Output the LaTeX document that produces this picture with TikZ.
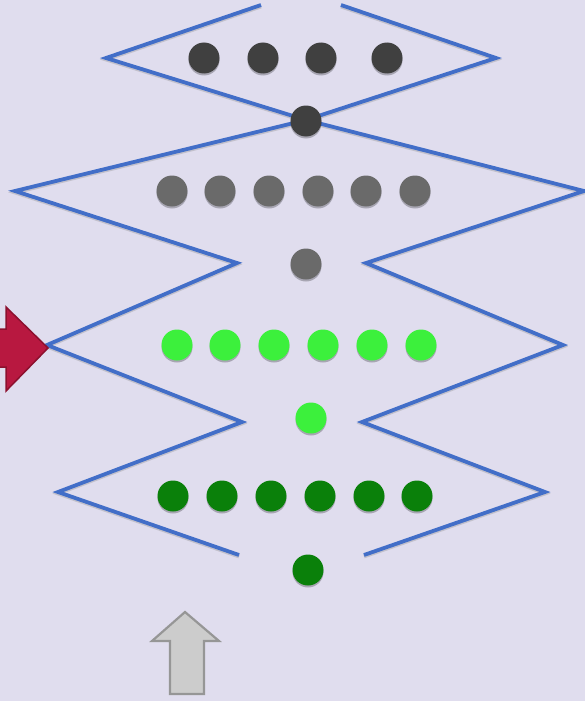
\documentclass[tikz,border=0pt]{standalone}
\usetikzlibrary{shadows}
\definecolor{bg}{RGB}{224,221,238}
\definecolor{zig}{RGB}{66,110,200}
\definecolor{dk}{RGB}{64,64,64}
\definecolor{md}{RGB}{106,106,106}
\definecolor{lime}{RGB}{60,240,60}
\definecolor{dgreen}{RGB}{10,128,10}
\definecolor{crim}{RGB}{184,24,64}
\definecolor{crimb}{RGB}{140,16,46}
\definecolor{ga}{RGB}{204,204,204}
\definecolor{gab}{RGB}{150,150,150}
\begin{document}
\begin{tikzpicture}[x=1pt,y=-1pt,
  dot/.style={circle,inner sep=0pt,minimum width=31pt,minimum height=30pt,draw=none,
    drop shadow={shadow xshift=0pt,shadow yshift=-2pt,opacity=0.25,fill=black}},
  zz/.style={draw=zig,line width=3.8pt,line join=miter},
  zzs/.style={draw=black!45,opacity=0.35,line width=3.8pt}]
\fill[bg] (0,0) rectangle (585,701);
\useasboundingbox (0,0) rectangle (585,701);
% zigzag shadows
\draw[zzs,yshift=-1.5pt] (261,5)--(106,58)--(306,120)--(15,191)--(237,263)--(47,345)--(242,422)--(58,492)--(239,555);
\draw[zzs,yshift=-1.5pt] (341,5)--(496,58)--(306,120)--(584,191)--(366,263)--(563,345)--(362,422)--(545,492)--(364,555);
% zigzag lines
\draw[zz] (261,5)--(106,58)--(306,120)--(15,191)--(237,263)--(47,345)--(242,422)--(58,492)--(239,555);
\draw[zz] (341,5)--(496,58)--(306,120)--(584,191)--(366,263)--(563,345)--(362,422)--(545,492)--(364,555);
% row 1
\foreach \x [count=\i] in {204,263,321,387} \node[dot,fill=dk] (a\i) at (\x,58) {};
\node[dot,fill=dk] (ac) at (306,121) {};
% row 2
\foreach \x [count=\i] in {172,220,269,318,366,415} \node[dot,fill=md] (b\i) at (\x,191) {};
\node[dot,fill=md] (bc) at (306,264) {};
% row 3
\foreach \x [count=\i] in {177,225,274,323,372,421} \node[dot,fill=lime] (c\i) at (\x,345) {};
\node[dot,fill=lime] (cc) at (311,418) {};
% row 4
\foreach \x [count=\i] in {173,222,271,320,369,417} \node[dot,fill=dgreen] (d\i) at (\x,496) {};
\node[dot,fill=dgreen] (dc) at (308,570) {};
% red arrow
\draw[fill=crim,draw=crimb,line width=1.5pt,line join=miter] (-5,329)--(6,329)--(6,307)--(48,348)--(6,391)--(6,367)--(-5,367)--cycle;
% gray arrow
\draw[fill=ga,draw=gab,line width=2.2pt,line join=miter] (170,694)--(170,641)--(152,641)--(185,612)--(219,641)--(204,641)--(204,694)--cycle;
\end{tikzpicture}
\end{document}
